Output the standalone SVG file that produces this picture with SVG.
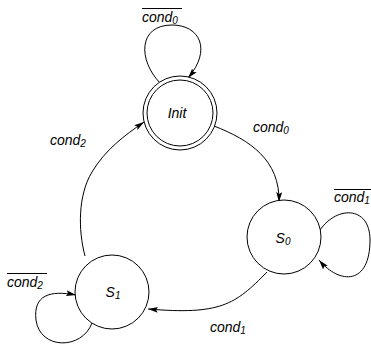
<svg xmlns="http://www.w3.org/2000/svg" width="371" height="345" viewBox="0 0 371 345">
<style>
.n{fill:#fff;stroke:#000;stroke-width:1}
.e{fill:none;stroke:#000;stroke-width:1;marker-end:url(#ah)}
.t{font-family:"Liberation Sans",Arial,sans-serif;font-style:italic;font-size:14px;fill:#000}
.s{font-size:10px}
.ol{stroke:#000;stroke-width:1}
</style>
<defs>
<marker id="ah" viewBox="0 0 10 6" refX="10" refY="3" markerWidth="10" markerHeight="6" markerUnits="userSpaceOnUse" orient="auto">
<path d="M0,0 L10,3 L0,6 L2,3 Z" fill="#000"/>
</marker>
</defs>
<rect width="371" height="345" fill="#fff"/>
<g id="connectors">
<path class="e" d="M160,83 C138,60 138,25 172,25 C200,25 212,50 188,78"/>
<path class="e" d="M214,126 C250,140 280,160 279,202"/>
<path class="e" d="M318,233 C335,205 370,205 370,240 C370,285 340,285 319,260"/>
<path class="e" d="M267,272 C235,305 220,315 148,309"/>
<path class="e" d="M92,323 C82,350 40,350 36,320 C33,295 50,290 76,295"/>
<path class="e" d="M85,256 C78,230 78,195 92,172 C105,150 125,135 144,122"/>
</g>
<g id="init">
<circle class="n" cx="180" cy="113" r="37"/>
<circle class="n" cx="180" cy="113" r="33"/>
<text class="t" x="177" y="118" text-anchor="middle">Init</text>
</g>
<g id="s0">
<circle class="n" cx="284" cy="237" r="37"/>
<text class="t" x="283" y="243" text-anchor="middle">S<tspan class="s" dy="2">0</tspan></text>
</g>
<g id="s1">
<circle class="n" cx="112" cy="292" r="37"/>
<text class="t" x="113" y="297" text-anchor="middle">S<tspan class="s" dy="2">1</tspan></text>
</g>
<g id="labels">
<text class="t" x="142" y="22">cond<tspan class="s" dy="2">0</tspan></text>
<line class="ol" x1="142" y1="8.5" x2="182" y2="8.5"/>
<text class="t" x="253" y="132">cond<tspan class="s" dy="2">0</tspan></text>
<text class="t" x="334" y="202">cond<tspan class="s" dy="2">1</tspan></text>
<line class="ol" x1="334" y1="189.5" x2="371" y2="189.5"/>
<text class="t" x="50" y="145">cond<tspan class="s" dy="2">2</tspan></text>
<text class="t" x="7" y="287">cond<tspan class="s" dy="2">2</tspan></text>
<line class="ol" x1="7" y1="273.5" x2="47" y2="273.5"/>
<text class="t" x="210" y="332">cond<tspan class="s" dy="2">1</tspan></text>
</g>
</svg>
